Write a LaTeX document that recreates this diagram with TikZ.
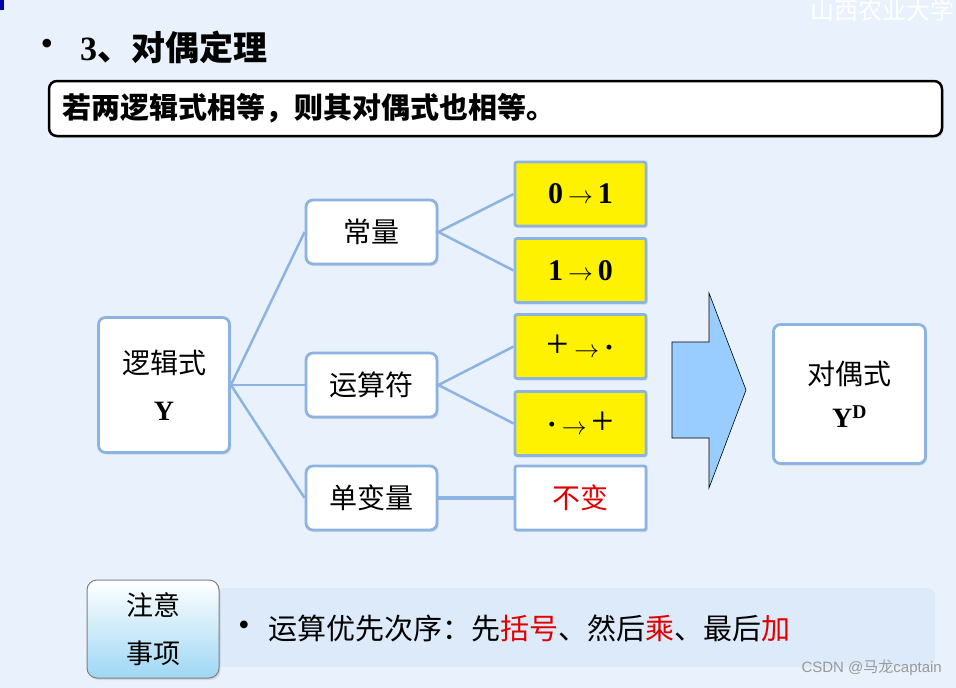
\documentclass[tikz,border=0pt]{standalone}
\usepackage{fontspec}
\setmainfont{Liberation Serif}
\newfontfamily\cjk{Noto Sans CJK SC}
\newfontfamily\wmfont{Liberation Sans}
\usetikzlibrary{shadows}

\definecolor{bgblue}{HTML}{E9F2FC}
\definecolor{boxblue}{HTML}{8DB3E2}
\definecolor{lineblue}{HTML}{8DB3E2}
\definecolor{hiyellow}{HTML}{FFF200}
\definecolor{arrowblue}{HTML}{99CCFF}
\definecolor{noteblue}{HTML}{DCEAF9}
\definecolor{notegrad}{HTML}{9ED7F4}
\definecolor{hired}{HTML}{E00000}

\newcommand\bigplus{{\mdseries\fontsize{40}{40}\selectfont +}}
\newcommand\thinarrow{$\rightarrow$}

\begin{document}
\begin{tikzpicture}[
  x=1pt, y=-1pt,
  box/.style={draw=boxblue, line width=2.8pt, rounded corners=7pt, fill=white,
              align=center, inner sep=0pt, minimum width=131pt, minimum height=64pt,
              font=\cjk\fontsize{28}{47}\selectfont,
              drop shadow={shadow xshift=1.5pt, shadow yshift=-2pt, fill=black!30, opacity=0.4}},
  swap/.style={box, rounded corners=2pt, fill=hiyellow, font=\rmfamily\fontsize{30}{32}\selectfont\bfseries},
  link/.style={draw=lineblue, line width=2.5pt}
]
% background and page size
\fill[bgblue] (0,0) rectangle (956,688);
\useasboundingbox (0,0) rectangle (956,688);
\fill[blue!70!black] (0,0) rectangle (4,10);
\node[anchor=east, inner sep=0pt, text=white, font=\cjk\fontsize{24}{26}\selectfont] (school) at (955,10) {山西农业大学};

% title and theorem
\node[font=\fontsize{36}{38}\selectfont] (dot) at (47,47) {•};
\node[anchor=west, inner sep=0pt, font=\fontsize{34}{36}\selectfont] (title) at (80,47)
  {\textbf{3}{\cjk\bfseries 、对偶定理}};
\node[draw=black, line width=2.5pt, rounded corners=8pt, fill=white,
      minimum width=893pt, minimum height=55pt, inner sep=0pt,
      drop shadow={shadow xshift=1.5pt, shadow yshift=-2pt, fill=black!30, opacity=0.4}]
  (rule) at (495.5,108.5) {};
\node[anchor=west, inner sep=0pt, font=\cjk\bfseries\fontsize{29}{31}\selectfont] (ruletext) at (62,108)
  {若两逻辑式相等，则其对偶式也相等。};

% tree
\node[box, minimum height=135pt] (logic) at (164,385) {逻辑式\\{\rmfamily\bfseries Y}};
\node[box] (const) at (371.5,232) {常量};
\node[box] (oper)  at (371.5,385) {运算符};
\node[box] (single) at (371.5,498) {单变量};

\node[swap] (zo) at (580.5,194)   {0\,\thinarrow\,1};
\node[swap] (oz) at (580.5,270.5) {1\,\thinarrow\,0};
\node[swap] (pd) at (580.5,346.5) {\bigplus\,\thinarrow\,·};
\node[swap] (dp) at (580.5,423.5) {·\,\thinarrow\,\bigplus};
\node[box, rounded corners=2pt, text=hired] (keep) at (580.5,498) {不变};

\draw[link] (logic.east) -- (const.west);
\draw[link] (logic.east) -- (oper.west);
\draw[link] (logic.east) -- (single.west);
\draw[link] (const.east) -- (zo.west);
\draw[link] (const.east) -- (oz.west);
\draw[link] (oper.east) -- (pd.west);
\draw[link] (oper.east) -- (dp.west);
\draw[link, line width=4pt] (single.east) -- (keep.west);

% big arrow and result
\draw[fill=arrowblue, draw=black, line width=0.6pt]
  (672,342) -- (709,342) -- (709,293) -- (746,390) -- (709,488) -- (709,438) -- (672,438) -- cycle;
\node[box, minimum width=152pt, minimum height=139pt, font=\cjk\fontsize{28}{43}\selectfont]
  (dual) at (849.5,394) {对偶式\\{\rmfamily\bfseries Y\textsuperscript{D}}};

% note
\fill[noteblue, rounded corners=8pt] (215,588) rectangle (935,667);
\node[draw=black!50, line width=1pt, rounded corners=10pt, top color=white, bottom color=notegrad,
      minimum width=132pt, minimum height=98pt, inner sep=0pt, align=center,
      font=\cjk\fontsize{27}{48}\selectfont,
      drop shadow={shadow xshift=1.5pt, shadow yshift=-2pt, fill=black!30, opacity=0.4}]
  (note) at (153,629) {注意\\事项};
\node[font=\fontsize{32}{34}\selectfont] (ndot) at (244,628) {•};
\node[anchor=west, inner sep=0pt, font=\cjk\fontsize{29}{31}\selectfont] (notetext) at (268,628)
  {运算优先次序：先\textcolor{hired}{括号}、然后\textcolor{hired}{乘}、最后\textcolor{hired}{加}};

% watermark
\node[anchor=east, inner sep=0pt, text=black!40, font=\wmfont\fontsize{15}{17}\selectfont] (csdn) at (942,668)
  {CSDN @{\cjk 马龙}captain};
\end{tikzpicture}
\end{document}
